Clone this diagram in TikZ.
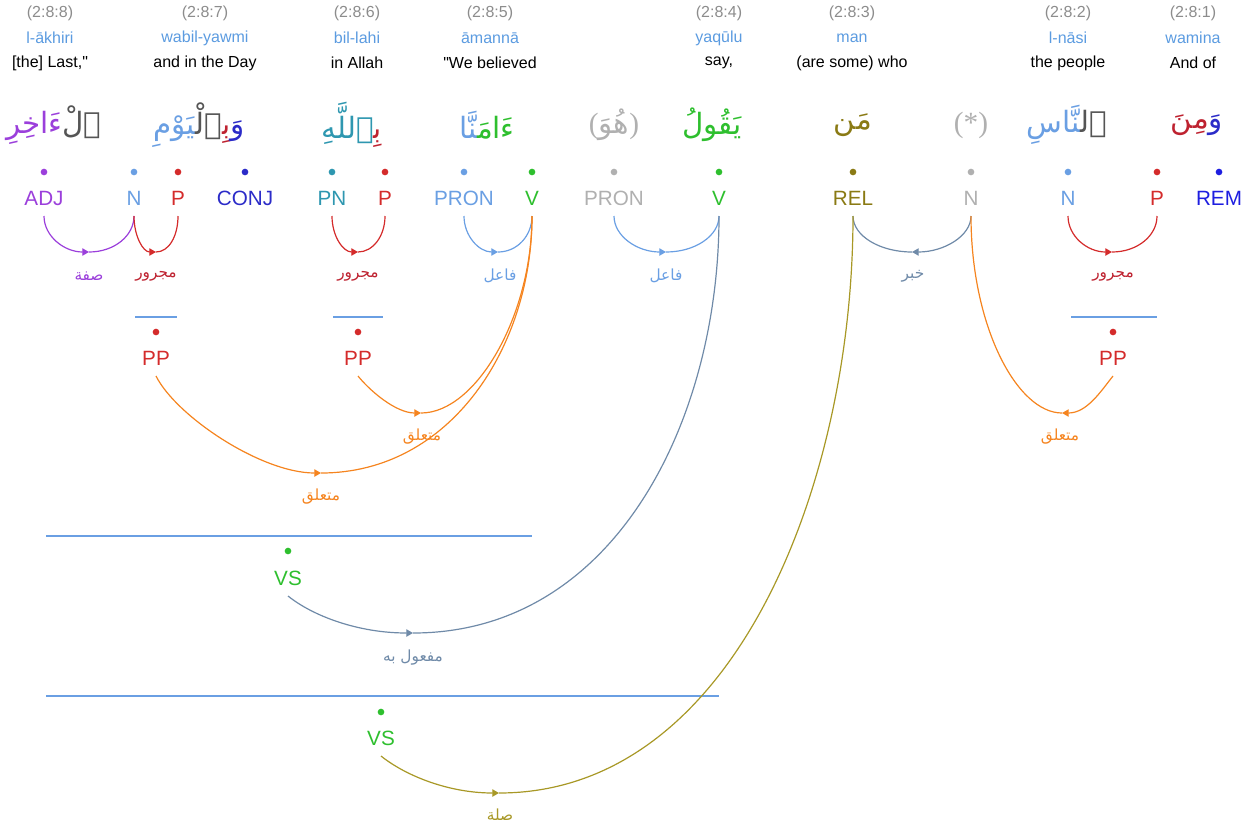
\documentclass[tikz,border=0pt]{standalone}
\usepackage{fontspec}
\setmainfont{Liberation Sans}
\newfontfamily\lsans{Liberation Sans}
\newfontfamily\lserif{Liberation Serif}
\newfontfamily\arabicfont[Script=Arabic]{DejaVu Sans}
\TeXXeTstate=1
\usetikzlibrary{arrows.meta}
\definecolor{cLoc}{HTML}{8C8C8C}
\definecolor{cTr}{HTML}{5B9BE0}
\definecolor{cADJ}{HTML}{9B3FDB}
\definecolor{cN}{HTML}{6A9FE3}
\definecolor{cP}{HTML}{D42B2B}
\definecolor{cPd}{HTML}{BE2230}
\definecolor{cCONJ}{HTML}{2B2BC8}
\definecolor{cPN}{HTML}{2E97B0}
\definecolor{cV}{HTML}{2EBF2E}
\definecolor{cHid}{HTML}{B0B0B0}
\definecolor{cREL}{HTML}{8A7A14}
\definecolor{cREM}{HTML}{1E1EE0}
\definecolor{cOr}{HTML}{F5841F}
\definecolor{cSl}{HTML}{6F8AA8}
\definecolor{cOl}{HTML}{A89826}
\definecolor{cLine}{HTML}{6A9FE3}
\definecolor{cDk}{HTML}{555555}
\newcommand\arw[1]{\hbox{\arabicfont\beginR #1\endR}}
\newcommand\zj{^^^^200d}
\begin{document}
\begin{tikzpicture}[x=0.75pt,y=-0.75pt,
  hloc/.style={text=cLoc,font=\lsans\fontsize{12}{14}\selectfont,inner sep=0},
  htr/.style={text=cTr,font=\lsans\fontsize{12}{14}\selectfont,inner sep=0},
  hen/.style={text=black,font=\lsans\fontsize{12}{14}\selectfont,inner sep=0},
  word/.style={inner sep=0,font=\fontsize{22}{26}\selectfont},
  tag/.style={inner sep=0,outer ysep=8pt,font=\lsans\fontsize{15.5}{16}\selectfont,text height=11pt,text depth=0pt},
  dotn/.style={circle,inner sep=0,minimum size=5pt},
  rlab/.style={inner sep=0,font=\fontsize{11.5}{13}\selectfont},
  arc/.style={line width=0.9pt},
  arcarrow/.style={line width=0.9pt,-{Triangle[length=5pt,width=5.5pt]}},
  pline/.style={cLine,line width=1.6pt},
]
\useasboundingbox (0,0) rectangle (1259,829);

% ---------- header rows ----------
\node[hloc] (l8) at (50,13) {(2:8:8)};
\node[htr]  (r8) at (50,38) {l-ākhiri};
\node[hen]  (e8) at (50,63) {[the] Last,"};
\node[hloc] (l7) at (205,13) {(2:8:7)};
\node[htr]  (r7) at (205,38) {wabil-yawmi};
\node[hen]  (e7) at (205,63) {and in the Day};
\node[hloc] (l6) at (357,13) {(2:8:6)};
\node[htr]  (r6) at (357,38) {bil-lahi};
\node[hen]  (e6) at (357,63) {in Allah};
\node[hloc] (l5) at (490,13) {(2:8:5)};
\node[htr]  (r5) at (490,38) {āmannā};
\node[hen]  (e5) at (490,63) {"We believed};
\node[hloc] (l4) at (719,13) {(2:8:4)};
\node[htr]  (r4) at (719,38) {yaqūlu};
\node[hen]  (e4) at (719,63) {say,};
\node[hloc] (l3) at (852,13) {(2:8:3)};
\node[htr]  (r3) at (852,38) {man};
\node[hen]  (e3) at (852,63) {(are some) who};
\node[hloc] (l2) at (1068,13) {(2:8:2)};
\node[htr]  (r2) at (1068,38) {l-nāsi};
\node[hen]  (e2) at (1068,63) {the people};
\node[hloc] (l1) at (1193,13) {(2:8:1)};
\node[htr]  (r1) at (1193,38) {wamina};
\node[hen]  (e1) at (1193,63) {And of};

% ---------- Arabic words ----------
\node[word,anchor=west] (w8) at (6,125) {\textcolor{cADJ}{\arw{ءَاخِرِ}}\textcolor{cDk}{\arw{ٱلْ}}};
\node[word] (w7) at (199,125) {\textcolor{cN}{\arw{\zj يَوْمِ}}\textcolor{cDk}{\arw{\zj ٱلْ\zj}}\textcolor{cPd}{\arw{بِ\zj}}\textcolor{cCONJ}{\arw{وَ}}};
\node[word] (w6) at (352,125) {\textcolor{cPN}{\arw{\zj ٱللَّهِ}}\textcolor{cPd}{\arw{بِ\zj}}};
\node[word] (w5) at (487,125) {\textcolor{cN}{\arw{\zj نَّا}}\textcolor{cV}{\arw{ءَامَ\zj}}};
\node[word,text=cHid] (wh1) at (614,125) {{\lserif(}\arw{هُوَ}{\lserif)}};
\node[word,text=cV] (w4) at (712,125) {\arw{يَقُولُ}};
\node[word,text=cREL] (w3) at (853,125) {\arw{مَن}};
\node[word,text=cHid] (wh2) at (971,125) {\lserif (*)};
\node[word] (w2) at (1067,125) {\textcolor{cN}{\arw{\zj نَّاسِ}}\textcolor{cDk}{\arw{ٱل\zj}}};
\node[word] (w1) at (1197,125) {\textcolor{cPd}{\arw{مِنَ}}\textcolor{cCONJ}{\arw{وَ}}};

% ---------- dots and tags ----------
\node[dotn,fill=cADJ]  (d8adj)  at (44,172) {};
\node[dotn,fill=cN]    (d7n)    at (134,172) {};
\node[dotn,fill=cP]    (d7p)    at (178,172) {};
\node[dotn,fill=cCONJ] (d7conj) at (245,172) {};
\node[dotn,fill=cPN]   (d6pn)   at (332,172) {};
\node[dotn,fill=cP]    (d6p)    at (385,172) {};
\node[dotn,fill=cN]    (d5pron) at (464,172) {};
\node[dotn,fill=cV]    (d5v)    at (532,172) {};
\node[dotn,fill=cHid]  (dhpron) at (614,172) {};
\node[dotn,fill=cV]    (d4v)    at (719,172) {};
\node[dotn,fill=cREL]  (d3rel)  at (853,172) {};
\node[dotn,fill=cHid]  (dhn)    at (971,172) {};
\node[dotn,fill=cN]    (d2n)    at (1068,172) {};
\node[dotn,fill=cP]    (d1p)    at (1157,172) {};
\node[dotn,fill=cREM]  (d1rem)  at (1219,172) {};

\node[tag,text=cADJ]  (t8adj)  at (44,198) {ADJ};
\node[tag,text=cN]    (t7n)    at (134,198) {N};
\node[tag,text=cP]    (t7p)    at (178,198) {P};
\node[tag,text=cCONJ] (t7conj) at (245,198) {CONJ};
\node[tag,text=cPN]   (t6pn)   at (332,198) {PN};
\node[tag,text=cP]    (t6p)    at (385,198) {P};
\node[tag,text=cN]    (t5pron) at (464,198) {PRON};
\node[tag,text=cV]    (t5v)    at (532,198) {V};
\node[tag,text=cHid]  (thpron) at (614,198) {PRON};
\node[tag,text=cV]    (t4v)    at (719,198) {V};
\node[tag,text=cREL]  (t3rel)  at (853,198) {REL};
\node[tag,text=cHid]  (thn)    at (971,198) {N};
\node[tag,text=cN]    (t2n)    at (1068,198) {N};
\node[tag,text=cP]    (t1p)    at (1157,198) {P};
\node[tag,text=cREM]  (t1rem)  at (1219,198) {REM};

% ---------- phrase nodes ----------
\coordinate (p7a) at (135,317); \coordinate (p7b) at (177,317);
\coordinate (p6a) at (333,317); \coordinate (p6b) at (383,317);
\coordinate (p2a) at (1071,317); \coordinate (p2b) at (1157,317);
\coordinate (s1a) at (46,536); \coordinate (s1b) at (532,536);
\coordinate (s2a) at (46,696); \coordinate (s2b) at (719,696);
\draw[pline] (p7a) -- (p7b);
\draw[pline] (p6a) -- (p6b);
\draw[pline] (p2a) -- (p2b);
\draw[pline] (s1a) -- (s1b);
\draw[pline] (s2a) -- (s2b);

\node[dotn,fill=cP] (dpp7) at (156,332) {};
\node[dotn,fill=cP] (dpp6) at (358,332) {};
\node[dotn,fill=cP] (dpp2) at (1113,332) {};
\node[dotn,fill=cV] (dvs1) at (288,551) {};
\node[dotn,fill=cV] (dvs2) at (381,712) {};
\node[tag,text=cP] (pp7) at (156,358) {PP};
\node[tag,text=cP] (pp6) at (358,358) {PP};
\node[tag,text=cP] (pp2) at (1113,358) {PP};
\node[tag,text=cV] (vs1) at (288,578) {VS};
\node[tag,text=cV] (vs2) at (381,738) {VS};

% ---------- arc bottoms ----------
\coordinate (m1) at (89,252);
\coordinate (m2) at (156,252);
\coordinate (m3) at (358,252);
\coordinate (m4) at (498,252);
\coordinate (m5) at (666,252);
\coordinate (m6) at (912,252);
\coordinate (m7) at (1112,252);
\coordinate (o1) at (421,413);
\coordinate (o2) at (321,473);
\coordinate (o3) at (1062,413);
\coordinate (sb) at (413,633);
\coordinate (ob) at (499,793);

% ---------- small arcs ----------
\draw[arcarrow,cADJ] (t8adj.south) .. controls +(0,20) and +(-25,0) .. (m1);
\draw[arc,cADJ] (m1) .. controls +(25,0) and +(0,20) .. (t7n.south);
\draw[arcarrow,cP] (t7n.south) .. controls +(0,20) and +(-13,0) .. (m2);
\draw[arc,cP] (m2) .. controls +(13,0) and +(0,20) .. (t7p.south);
\draw[arcarrow,cP] (t6pn.south) .. controls +(0,20) and +(-15,0) .. (m3);
\draw[arc,cP] (m3) .. controls +(15,0) and +(0,20) .. (t6p.south);
\draw[arcarrow,cN] (t5pron.south) .. controls +(0,20) and +(-19,0) .. (m4);
\draw[arc,cN] (m4) .. controls +(19,0) and +(0,20) .. (t5v.south);
\draw[arcarrow,cN] (thpron.south) .. controls +(0,20) and +(-29,0) .. (m5);
\draw[arc,cN] (m5) .. controls +(29,0) and +(0,20) .. (t4v.south);
\draw[arcarrow,cSl] (thn.south) .. controls +(0,20) and +(32,0) .. (m6);
\draw[arc,cSl] (m6) .. controls +(-32,0) and +(0,20) .. (t3rel.south);
\draw[arcarrow,cP] (t2n.south) .. controls +(0,20) and +(-25,0) .. (m7);
\draw[arc,cP] (m7) .. controls +(25,0) and +(0,20) .. (t1p.south);

% ---------- long arcs ----------
\draw[arcarrow,cOr] (pp6.south) .. controls +(12,15) and +(-25,0) .. (o1);
\draw[arc,cOr] (o1) .. controls +(55,0) and +(0,100) .. (t5v.south);
\draw[arcarrow,cOr] (pp7.south) .. controls +(20,40) and +(-60,0) .. (o2);
\draw[arc,cOr] (o2) .. controls +(130,0) and +(0,130) .. (t5v.south);
\draw[arcarrow,cOr] (pp2.south) .. controls +(-12,15) and +(25,0) .. (o3);
\draw[arc,cOr] (o3) .. controls +(-45,0) and +(0,110) .. (thn.south);
\draw[arcarrow,cSl] (vs1.south) .. controls +(25,20) and +(-55,0) .. (sb);
\draw[arc,cSl] (sb) .. controls +(202,0) and +(0,204) .. (t4v.south);
\draw[arcarrow,cOl] (vs2.south) .. controls +(25,20) and +(-50,0) .. (ob);
\draw[arc,cOl] (ob) .. controls +(235,0) and +(0,268) .. (t3rel.south);

% ---------- relation labels ----------
\node[rlab,text=cADJ] (lb1) at (89,276) {\arw{صفة}};
\node[rlab,text=cPd] (lb2) at (156,276) {\arw{مجرور}};
\node[rlab,text=cPd] (lb3) at (358,276) {\arw{مجرور}};
\node[rlab,text=cN] (lb4) at (500,276) {\arw{فاعل}};
\node[rlab,text=cN] (lb5) at (666,276) {\arw{فاعل}};
\node[rlab,text=cSl] (lb6) at (913,276) {\arw{خبر}};
\node[rlab,text=cPd] (lb7) at (1113,276) {\arw{مجرور}};
\node[rlab,text=cOr] (lb8) at (422,437) {\arw{متعلق}};
\node[rlab,text=cOr] (lb9) at (321,497) {\arw{متعلق}};
\node[rlab,text=cOr] (lb10) at (1060,437) {\arw{متعلق}};
\node[rlab,text=cSl] (lb11) at (413,658) {\arw{مفعول به}};
\node[rlab,text=cOl] (lb12) at (500,815) {\arw{صلة}};
\end{tikzpicture}
\end{document}
